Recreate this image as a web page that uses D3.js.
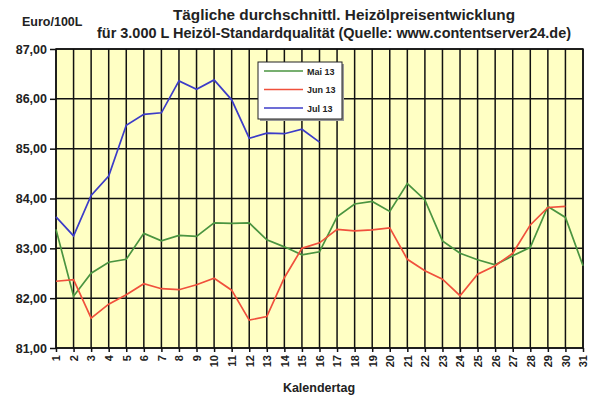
<!DOCTYPE html>
<html>
<head>
<meta charset="utf-8">
<script src="https://cdn.jsdelivr.net/npm/d3@7"></script>
<style>
  body { margin: 0; background: #fff; }
  text { font-family: "Liberation Sans", Arial, sans-serif; font-weight: bold; fill: #222; }
</style>
</head>
<body>
<svg id="chart" width="597" height="400"></svg>
<script>
// Kalendertage
var days = d3.range(1, 32);
var yTicks = [81, 82, 83, 84, 85, 86, 87];

// Euro/100L je Tag
var mai13 = [83.38, 82.04, 82.50, 82.72, 82.78, 83.30, 83.15, 83.26, 83.24, 83.51,
             83.50, 83.51, 83.17, 83.03, 82.87, 82.93, 83.63, 83.89, 83.94, 83.74,
             84.30, 83.97, 83.15, 82.90, 82.77, 82.67, 82.85, 83.02, 83.84, 83.62, 82.65];
var jun13 = [82.34, 82.37, 81.60, 81.88, 82.07, 82.29, 82.19, 82.17, 82.27, 82.40,
             82.16, 81.56, 81.63, 82.41, 83.00, 83.11, 83.38, 83.35, 83.37, 83.41,
             82.78, 82.55, 82.38, 82.05, 82.48, 82.65, 82.90, 83.47, 83.82, 83.84];
var jul13 = [83.63, 83.25, 84.06, 84.45, 85.47, 85.69, 85.72, 86.36, 86.19, 86.38,
             85.98, 85.21, 85.31, 85.30, 85.39, 85.13];

var series = [
  {name: "Mai 13", values: mai13, color: "#4a9440"},
  {name: "Jun 13", values: jun13, color: "#f0503c"},
  {name: "Jul 13", values: jul13, color: "#3c3cc8"}
];

var svg = d3.select("#chart");
var margin = {top: 49, right: 14, bottom: 52, left: 56};
var width = 597 - margin.left - margin.right,
    height = 400 - margin.top - margin.bottom;

var x = d3.scaleLinear().domain([1, 31]).range([0, width]);
var y = d3.scaleLinear().domain([81, 87]).range([height, 0]);

var g = svg.append("g").attr("transform", "translate(" + margin.left + "," + margin.top + ")");

g.append("rect")
  .attr("width", width).attr("height", height)
  .attr("fill", "#ffffc4");

// gitter
g.append("g").selectAll("line")
  .data(days).enter().append("line")
    .attr("x1", function(d) { return x(d); })
    .attr("x2", function(d) { return x(d); })
    .attr("y1", 0).attr("y2", height)
    .attr("stroke", "#111").attr("stroke-width", 1.5);

g.append("g").selectAll("line")
  .data(yTicks).enter().append("line")
    .attr("x1", 0).attr("x2", width)
    .attr("y1", function(d) { return y(d); })
    .attr("y2", function(d) { return y(d); })
    .attr("stroke", "#111").attr("stroke-width", 1.5);

g.append("rect")
  .attr("width", width).attr("height", height)
  .attr("fill", "none").attr("stroke", "#111").attr("stroke-width", 1.5);

// achsen
var yAxis = g.append("g")
  .call(d3.axisLeft(y).tickValues(yTicks).tickSize(6).tickPadding(3)
    .tickFormat(function(d) { return d3.format(".2f")(d).replace(".", ","); }));
yAxis.select(".domain").remove();
yAxis.selectAll("line").attr("stroke", "#111").attr("stroke-width", 1.5);
yAxis.selectAll("text").style("font-size", "12.5px").style("font-family", "Liberation Sans, Arial, sans-serif")
  .style("font-weight", "bold").attr("fill", "#222");

var xAxis = g.append("g")
  .attr("transform", "translate(0," + height + ")")
  .call(d3.axisBottom(x).tickValues(days).tickSize(4).tickFormat(d3.format("d")));
xAxis.select(".domain").remove();
xAxis.selectAll("line").attr("stroke", "#111").attr("stroke-width", 1.5);
xAxis.selectAll("text")
  .style("font-size", "11px").style("font-family", "Liberation Sans, Arial, sans-serif")
  .style("font-weight", "bold").attr("fill", "#222")
  .attr("text-anchor", "end")
  .attr("transform", "rotate(-90)")
  .attr("x", -7).attr("y", 0).attr("dy", "0.35em");

// linien
var line = d3.line()
  .x(function(d, i) { return x(i + 1); })
  .y(function(d) { return y(d); });

g.selectAll(".serie")
  .data(series).enter().append("path")
    .attr("class", "serie")
    .attr("d", function(d) { return line(d.values); })
    .attr("fill", "none")
    .attr("stroke", function(d) { return d.color; })
    .attr("stroke-width", 1.7);

// legende
var leg = svg.append("g").attr("transform", "translate(258,62)");
leg.append("rect").attr("x", 2).attr("y", 2).attr("width", 84).attr("height", 57).attr("fill", "#999");
leg.append("rect").attr("width", 84).attr("height", 57)
  .attr("fill", "#fff").attr("stroke", "#222").attr("stroke-width", 1);
var item = leg.selectAll(".leg").data(series).enter().append("g")
  .attr("transform", function(d, i) { return "translate(0," + (9 + i * 18.5) + ")"; });
item.append("line").attr("x1", 6).attr("x2", 45).attr("y1", 0).attr("y2", 0)
  .attr("stroke", function(d) { return d.color; }).attr("stroke-width", 1.6);
item.append("text").attr("x", 49).attr("y", 3.5)
  .style("font-size", "9px")
  .text(function(d) { return d.name; });

// titel
svg.append("text").attr("x", 173).attr("y", 19.5)
  .attr("textLength", 342).attr("lengthAdjust", "spacingAndGlyphs")
  .style("font-size", "14px")
  .text("Tägliche durchschnittl. Heizölpreisentwicklung");
svg.append("text").attr("x", 97).attr("y", 38)
  .attr("textLength", 474).attr("lengthAdjust", "spacingAndGlyphs")
  .style("font-size", "14px")
  .text("für 3.000 L Heizöl-Standardqualität (Quelle: www.contentserver24.de)");
svg.append("text").attr("x", 22).attr("y", 26)
  .style("font-size", "12.5px")
  .text("Euro/100L");
svg.append("text").attr("x", 319).attr("y", 392).attr("text-anchor", "middle")
  .style("font-size", "12.5px")
  .text("Kalendertag");
</script>
</body>
</html>
